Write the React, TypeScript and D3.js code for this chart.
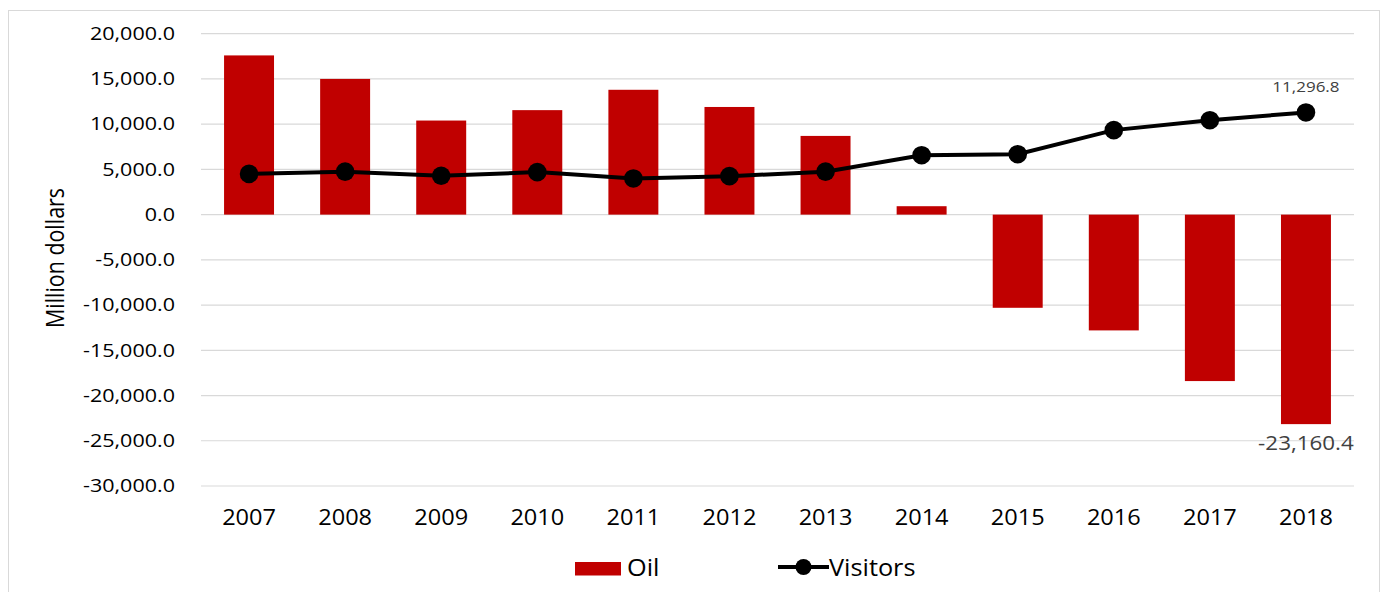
import React from "react";
import * as d3 from "d3";

const years = ["2007", "2008", "2009", "2010", "2011", "2012", "2013", "2014", "2015", "2016", "2017", "2018"];
const oil = [17600, 15000, 10400, 11550, 13800, 11900, 8700, 930, -10300, -12800, -18400, -23160.4];
const visitors = [4500, 4750, 4300, 4700, 4000, 4250, 4750, 6570, 6680, 9340, 10440, 11296.8];
const yTicks = [20000, 15000, 10000, 5000, 0, -5000, -10000, -15000, -20000, -25000, -30000];

const W = 1381;
const H = 592;
const FONT = "'Open Sans', sans-serif";

const x = d3.scaleBand<string>().domain(years).range([201, 1354]).paddingInner(0.48).paddingOuter(0.24);
const y = d3.scaleLinear().domain([-30000, 20000]).range([486, 33.7]);
const fmt0 = d3.format(",.1f");
const fmt = (v: number) => fmt0(v).replace("\u2212", "-");

function SText({ x: tx, y: ty, sx, children, ...rest }: any) {
  return (
    <g transform={`translate(${tx},${ty}) scale(${sx},1)`}>
      <text {...rest}>{children}</text>
    </g>
  );
}

export default function App() {
  const cx = (d: string) => (x(d) as number) + x.bandwidth() / 2;
  const line = d3
    .line<number>()
    .x((_, i) => cx(years[i]))
    .y((v) => y(v));
  const last = years.length - 1;
  return (
    <svg width={W} height={H} style={{ position: "absolute", left: 0, top: 0, background: "#fff" }}>
      <rect x={8.5} y={10.5} width={1371} height={620} fill="#fff" stroke="#d9d9d9" strokeWidth={1} />
      {yTicks.map((t) => (
        <g key={t}>
          <line x1={201} x2={1354} y1={y(t)} y2={y(t)} stroke="#d9d9d9" strokeWidth={1.2} />
          <SText x={175} y={y(t) + 6.3} sx={1.21} textAnchor="end" fontFamily={FONT} fontSize={17.8} fill="#000">
            {fmt(t)}
          </SText>
        </g>
      ))}
      {oil.map((v, i) => (
        <rect
          key={years[i]}
          x={x(years[i])}
          y={Math.min(y(v), y(0))}
          width={x.bandwidth()}
          height={Math.abs(y(v) - y(0))}
          fill="#c00000"
        />
      ))}
      <path d={line(visitors) || ""} fill="none" stroke="#000" strokeWidth={4} />
      {visitors.map((v, i) => (
        <circle key={years[i]} cx={cx(years[i])} cy={y(v)} r={9.3} fill="#000" />
      ))}
      <SText x={cx(years[last])} y={91.5} sx={1.15} textAnchor="middle" fontFamily={FONT} fontSize={14.8} fill="#404040">
        {fmt(visitors[last])}
      </SText>
      <SText x={cx(years[last])} y={449.5} sx={1.12} textAnchor="middle" fontFamily={FONT} fontSize={20} fill="#404040">
        {fmt(oil[last])}
      </SText>
      {years.map((yr) => (
        <SText key={yr} x={cx(yr)} y={525} sx={1.07} textAnchor="middle" fontFamily={FONT} fontSize={22} fill="#000">
          {yr}
        </SText>
      ))}
      <g transform="translate(64,258) scale(1.2,1)">
        <text transform="rotate(-90)" textAnchor="middle" fontFamily={FONT} fontSize={21.4} fill="#000">
          Million dollars
        </text>
      </g>
      <rect x={575} y={562} width={46} height={13.5} fill="#c00000" />
      <SText x={627} y={576} sx={1.1} fontFamily={FONT} fontSize={23} fill="#000">
        Oil
      </SText>
      <line x1={778} x2={829} y1={567} y2={567} stroke="#000" strokeWidth={4} />
      <circle cx={803.5} cy={567} r={8} fill="#000" />
      <SText x={829} y={576} sx={1.1} fontFamily={FONT} fontSize={23} fill="#000">
        Visitors
      </SText>
    </svg>
  );
}
